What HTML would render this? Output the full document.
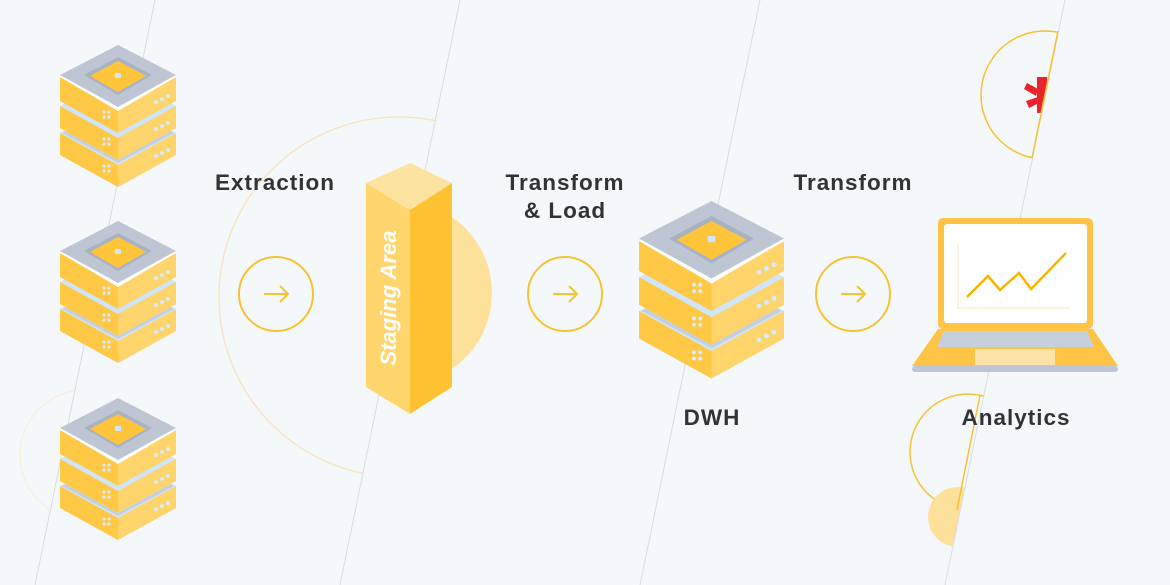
<!DOCTYPE html>
<html><head><meta charset="utf-8"><style>
html,body{margin:0;padding:0;background:#f5f8fb;}
svg{display:block;}
text{font-family:"Liberation Sans",sans-serif;font-weight:bold;fill:#333;}
</style></head><body>
<svg width="1170" height="585" viewBox="0 0 1170 585" xmlns="http://www.w3.org/2000/svg">
<defs>
<clipPath id="l1"><polygon points="0,0 155,0 35,585 0,585"/></clipPath>
<clipPath id="l2"><polygon points="0,0 460,0 340,585 0,585"/></clipPath>
<clipPath id="r2"><polygon points="460,0 1170,0 1170,585 340,585"/></clipPath>
<clipPath id="l4"><polygon points="0,0 1065,0 945,585 0,585"/></clipPath>
<g id="srv">
  <g transform="translate(0,54)">
    <polygon points="58,2 116,34 116,56 58,88 0,56 0,34" fill="#cfe6fa"/>
    <polygon points="0,34 58,66 58,88 0,56" fill="#ffc845"/>
    <polygon points="116,34 58,66 58,88 116,56" fill="#ffd46a"/>
    <polygon points="58,4 114,34 58,64 2,34" fill="#c6cfdc"/>
  </g>
  <g transform="translate(0,27)">
    <polygon points="58,2 116,34 116,56 58,88 0,56 0,34" fill="#cfe6fa"/>
    <polygon points="0,34 58,66 58,88 0,56" fill="#ffc845"/>
    <polygon points="116,34 58,66 58,88 116,56" fill="#ffd46a"/>
  </g>
  <polygon points="0,32 58,64 58,88 0,56" fill="#ffc845"/>
  <polygon points="116,32 58,64 58,88 116,56" fill="#ffd46a"/>
  <polygon points="58,0 116,32 58,66 0,32" fill="#fff"/>
  <polygon points="58,0 116,30 58,62 0,30" fill="#bfc6d3"/>
  <polygon points="58,12 92,30 58,50 24,30" fill="#a9b2c2"/>
  <polygon points="58,16 86,31 58,47 30,31" fill="#ffc53a"/>
  <rect x="55" y="28" width="6" height="5" fill="#cfe6fa"/>
  <g fill="#d6ecfb">
    <circle cx="96" cy="57" r="2"/><circle cx="102" cy="54" r="2"/><circle cx="108" cy="51" r="2"/>
    <circle cx="96" cy="84" r="2"/><circle cx="102" cy="81" r="2"/><circle cx="108" cy="78" r="2"/>
    <circle cx="96" cy="111" r="2"/><circle cx="102" cy="108" r="2"/><circle cx="108" cy="105" r="2"/>
    <circle cx="44" cy="67" r="1.6"/><circle cx="49" cy="67" r="1.6"/><circle cx="44" cy="72" r="1.6"/><circle cx="49" cy="72" r="1.6"/>
    <circle cx="44" cy="94" r="1.6"/><circle cx="49" cy="94" r="1.6"/><circle cx="44" cy="99" r="1.6"/><circle cx="49" cy="99" r="1.6"/>
    <circle cx="44" cy="121" r="1.6"/><circle cx="49" cy="121" r="1.6"/><circle cx="44" cy="126" r="1.6"/><circle cx="49" cy="126" r="1.6"/>
  </g>
</g>
<g id="arr">
  <circle cx="0" cy="0" r="37" fill="none" stroke="#f7c232" stroke-width="2"/>
  <path d="M-12,0 H12 M4,-8 L12,0 L4,8" fill="none" stroke="#f7c232" stroke-width="2"/>
</g>
</defs>

<circle cx="399" cy="297" r="180" fill="none" stroke="#f6e6c0" stroke-width="1.5" clip-path="url(#l2)"/>
<circle cx="400" cy="293" r="92" fill="#fde19a" clip-path="url(#r2)"/>
<circle cx="85" cy="455" r="65" fill="none" stroke="#f8ecd2" stroke-width="1" clip-path="url(#l1)"/>
<circle cx="1045" cy="95" r="64" fill="none" stroke="#f7c232" stroke-width="1.5" clip-path="url(#l4)"/>
<circle cx="968" cy="452" r="58" fill="none" stroke="#f7c232" stroke-width="1.5" clip-path="url(#l4)"/>
<circle cx="958" cy="517" r="30" fill="#fde19a" clip-path="url(#l4)"/>
<g clip-path="url(#l4)" fill="#e8242a">
  <rect x="1037" y="77" width="10" height="36"/>
  <polygon points="1038,89 1027,83 1024,89 1036,96"/>
  <polygon points="1038,97 1026,101 1029,108 1039,103"/>
</g>

<g stroke="#d9dce0" stroke-width="1">
  <line x1="155" y1="0" x2="35" y2="585"/>
  <line x1="460" y1="0" x2="340" y2="585"/>
  <line x1="760" y1="0" x2="640" y2="585"/>
  <line x1="1065" y1="0" x2="945" y2="585"/>
</g>
<line x1="1058" y1="31" x2="1032" y2="158" stroke="#f7c232" stroke-width="1.5"/>
<line x1="980" y1="395" x2="957" y2="510" stroke="#f7c232" stroke-width="1.5"/>

<use href="#srv" x="60" y="45"/>
<use href="#srv" x="60" y="221"/>
<use href="#srv" x="60" y="398"/>
<g transform="translate(639,201) scale(1.25)"><use href="#srv"/></g>

<polygon points="410,163 452,183 410,210 366,183" fill="#fde3a0"/>
<polygon points="366,183 410,210 410,414 366,387" fill="#ffd66e"/>
<polygon points="452,183 410,210 410,414 452,387" fill="#ffc233"/>
<text transform="translate(396,298) rotate(-90)" text-anchor="middle" font-size="22" font-style="italic" style="fill:#fff">Staging Area</text>

<use href="#arr" x="276" y="294"/>
<use href="#arr" x="565" y="294"/>
<use href="#arr" x="853" y="294"/>

<rect x="938" y="218" width="155" height="111" rx="5" fill="#ffc445"/>
<rect x="944" y="224" width="143" height="99" rx="3" fill="#fff"/>
<polyline points="958,244 958,308 1070,308" fill="none" stroke="#fdf0d4" stroke-width="1.5"/>
<polyline points="967,297 988,276 1000,290 1019,273 1031,289 1066,253" fill="none" stroke="#f8b500" stroke-width="2.5"/>
<polygon points="938,329 1093,329 1118,366 912,366" fill="#ffc445"/>
<rect x="912" y="366" width="206" height="6" rx="3" fill="#bcc6d6"/>
<polygon points="944,331 1087,331 1094,347 937,347" fill="#c6cfdc"/>
<rect x="975" y="349" width="80" height="16" fill="#ffe3a8"/>

<g font-size="22.5" letter-spacing="1">
<text x="275" y="190" text-anchor="middle">Extraction</text>
<text x="565" y="190" text-anchor="middle">Transform</text>
<text x="565" y="218" text-anchor="middle">&amp; Load</text>
<text x="853" y="190" text-anchor="middle">Transform</text>
<text x="712" y="425" text-anchor="middle">DWH</text>
<text x="1016" y="425" text-anchor="middle">Analytics</text>
</g>
</svg>
</body></html>
